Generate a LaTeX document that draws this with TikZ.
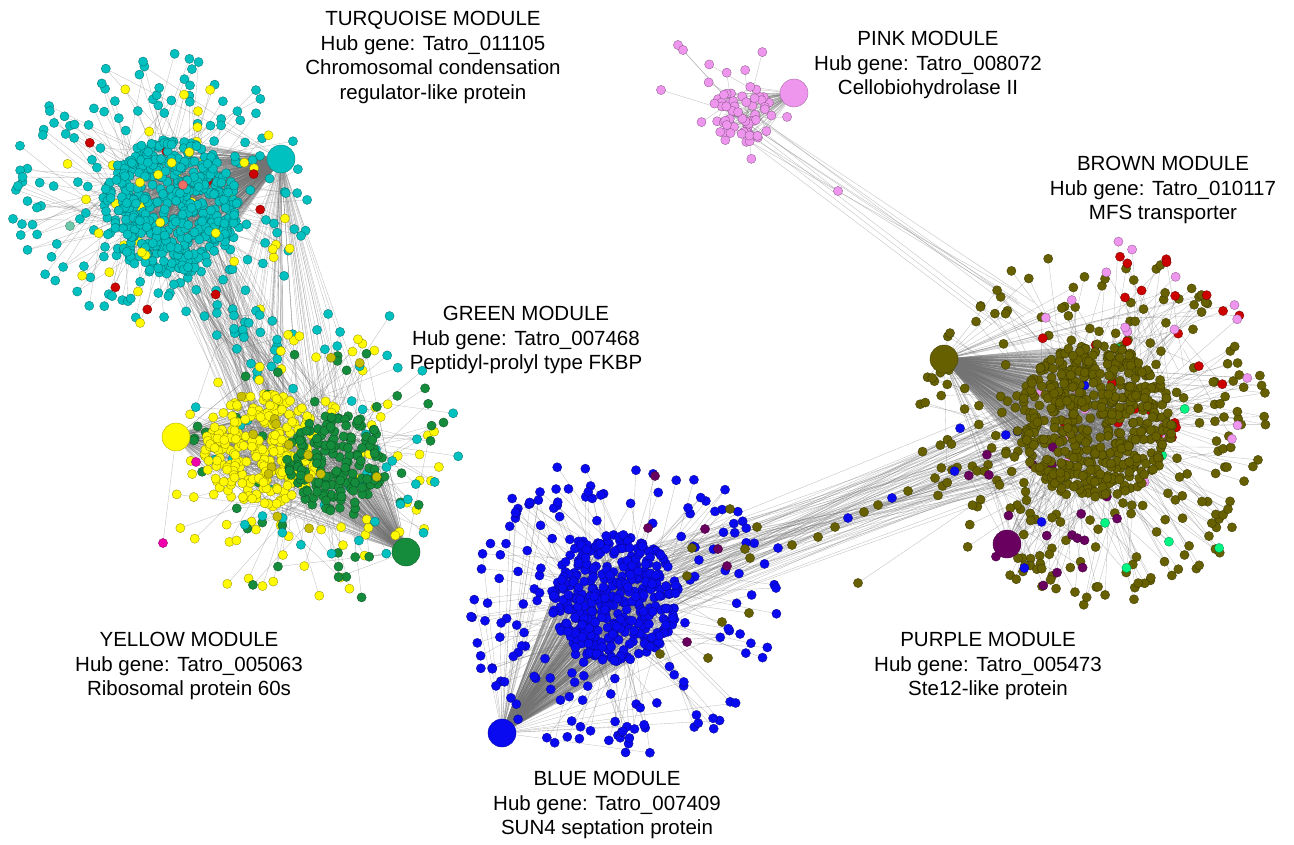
\documentclass[tikz,border=0pt]{standalone}
\usepackage{fontspec}
\newfontfamily\labelfont{Liberation Sans}

% module colours
\definecolor{turq}{RGB}{0,192,192}
\definecolor{yel}{RGB}{255,250,0}
\definecolor{dyel}{RGB}{200,190,0}
\definecolor{grn}{RGB}{20,140,60}
\definecolor{blu}{RGB}{10,10,240}
\definecolor{olv}{RGB}{102,96,0}
\definecolor{pnk}{RGB}{238,150,238}
\definecolor{prp}{RGB}{105,0,95}
\definecolor{rd}{RGB}{205,0,0}
\definecolor{slm}{RGB}{240,110,100}
\definecolor{spg}{RGB}{0,245,130}
\definecolor{mag}{RGB}{240,0,170}
\definecolor{pal}{RGB}{110,200,170}

\tikzset{
  link/.style={draw=black!55, line width=0.35pt, opacity=0.45},
  dot/.style={fill=#1, draw=#1!55!black, line width=0.3pt},
  hubdot/.style={circle, fill=#1, draw=#1!70!black, line width=0.4pt,
                 minimum size=28pt, inner sep=0pt},
  modtext/.style={font=\labelfont\fontsize{20.5}{24.5}\selectfont,
                  align=center, anchor=north, inner sep=0pt},
}

% the network is drawn twice with the same seed: links first, then genes
\newif\iflinkpass

% a cloud of genes: #1,#2 centre; #3 inner and #4 outer radius; #5 number of genes;
% #6 colour; #7 hub; #8 share of genes tied to the hub; #9 radius of the core they tie into
\newcommand\netblob[9]{%
  \foreach \k in {1,...,#5}{%
    \pgfmathsetmacro\ang{360*rnd}%
    \pgfmathsetmacro\rq{#3/#4}%
    \pgfmathsetmacro\rad{#4*sqrt(\rq*\rq+(1-\rq*\rq)*rnd)}%
    \pgfmathsetmacro\px{#1+\rad*cos(\ang)}%
    \pgfmathsetmacro\py{#2+\rad*sin(\ang)}%
    \pgfmathsetmacro\tang{360*rnd}%
    \pgfmathsetmacro\trad{#9*sqrt(rnd)}%
    \pgfmathsetmacro\tx{#1+\trad*cos(\tang)}%
    \pgfmathsetmacro\ty{#2+\trad*sin(\tang)}%
    \pgfmathtruncatemacro\hl{(rnd<#8)}%
    \iflinkpass
      \draw[link] (\px,\py) -- (\tx,\ty);
      \ifnum\hl=1 \draw[link] (\px,\py) -- (#7);\fi
    \else
      \path[dot=#6] (\px,\py) circle[radius=4.6pt];
    \fi
  }%
}

% bundle of co-expression links between two discs
\newcommand\bandlinks[7]{%
  \foreach \k in {1,...,#1}{%
    \pgfmathsetmacro\aa{360*rnd}\pgfmathsetmacro\ra{#4*sqrt(rnd)}%
    \pgfmathsetmacro\ab{360*rnd}\pgfmathsetmacro\rb{#7*sqrt(rnd)}%
    \pgfmathsetmacro\xa{#2+\ra*cos(\aa)}\pgfmathsetmacro\ya{#3+\ra*sin(\aa)}%
    \pgfmathsetmacro\xb{#5+\rb*cos(\ab)}\pgfmathsetmacro\yb{#6+\rb*sin(\ab)}%
    \iflinkpass \draw[link] (\xa,\ya) -- (\xb,\yb);\fi
  }%
}

% a single gene with one link
\newcommand\spot[4]{%
  \iflinkpass \draw[link] (#1,#2) -- (#4);%
  \else \path[dot=#3] (#1,#2) circle[radius=4.6pt];\fi
}

\newcommand\network{%
  % links between modules
  \bandlinks{110}{195}{250}{40}{290}{440}{55}
  \bandlinks{25}{281}{159}{0}{300}{450}{60}
  \bandlinks{80}{406}{552}{0}{290}{455}{60}
  \bandlinks{80}{650}{585}{40}{1010}{450}{45}
  \bandlinks{10}{742}{118}{22}{1010}{320}{30}
  \bandlinks{15}{1007}{544}{0}{1095}{422}{60}
  \bandlinks{50}{502}{733}{0}{610}{600}{60}
  % turquoise module
  \netblob{160}{195}{68}{150}{150}{turq}{hT}{0.15}{55}
  \netblob{168}{205}{20}{140}{38}{yel}{hT}{0.2}{50}
  \netblob{168}{205}{20}{110}{9}{rd}{hT}{0.2}{50}
  \netblob{250}{335}{0}{45}{25}{turq}{hT}{0.5}{40}
  \netblob{170}{207}{0}{68}{450}{turq}{hT}{0.9}{40}
  \netblob{168}{205}{10}{60}{8}{yel}{hT}{0.5}{40}
  \spot{183}{185}{slm}{cT}
  \spot{70}{226}{pal}{cT}
  % yellow and green modules
  \netblob{300}{465}{58}{140}{75}{yel}{hY}{0.1}{60}
  \netblob{320}{470}{52}{135}{45}{grn}{hG}{0.2}{50}
  \netblob{330}{430}{30}{140}{50}{turq}{hT}{0.15}{40}
  \netblob{262}{450}{0}{58}{250}{yel}{hY}{0.55}{40}
  \netblob{337}{462}{0}{50}{165}{grn}{hG}{0.8}{35}
  \netblob{320}{440}{10}{90}{15}{dyel}{hY}{0.2}{40}
  \spot{196}{462}{mag}{hY}
  \spot{163}{543}{mag}{hY}
  % blue module
  \netblob{622}{605}{62}{155}{170}{blu}{hB}{0.25}{50}
  \netblob{615}{598}{0}{64}{390}{blu}{hB}{0.8}{40}
  \foreach \x/\y in {730/509,757/527,745/549,750/558,692/548,687/576,749/613,
                     722/622,708/658,660/654}{\spot{\x}{\y}{olv}{cB}}
  \foreach \x/\y in {655/476,705/529,718/549,727/566,648/528,687/642}{\spot{\x}{\y}{prp}{cB}}
  \foreach \x/\y in {778/548,776/588}{\spot{\x}{\y}{blu}{cB}}
  % genes bridging the blue and brown modules
  \foreach \x/\y in {792/545,818/537,835/527,864/512,878/505,908/491,935/478,
                     952/470,858/583}{\spot{\x}{\y}{olv}{cBr}}
  \foreach \x/\y in {848/518,892/498}{\spot{\x}{\y}{blu}{cBr}}
  % brown module
  \netblob{1095}{428}{78}{178}{230}{olv}{hBr}{0.2}{55}
  \netblob{1140}{350}{10}{110}{25}{rd}{hBr}{0.15}{50}
  \netblob{1150}{360}{30}{130}{25}{pnk}{hBr}{0.15}{50}
  \netblob{1040}{510}{0}{80}{18}{prp}{hPu}{0.4}{40}
  \netblob{1040}{470}{20}{100}{7}{blu}{hBr}{0.3}{40}
  \netblob{1100}{470}{40}{150}{7}{spg}{hBr}{0.3}{40}
  \netblob{1095}{422}{0}{78}{500}{olv}{hBr}{0.8}{45}
  % pink module
  \netblob{742}{108}{30}{62}{10}{pnk}{hP}{0.5}{25}
  \netblob{742}{115}{0}{30}{55}{pnk}{hP}{0.95}{22}
  \foreach \x/\y in {678/45,683/50,661/90}{\spot{\x}{\y}{pnk}{cP}}
  \spot{838}{191}{pnk}{cP}
}

\begin{document}
\begin{tikzpicture}[x=1pt,y=-1pt]
\fill[white] (0,0) rectangle (1294,845);
\useasboundingbox (0,0) rectangle (1294,845);

% hub positions and module cores
\coordinate (hT)  at (281,159);
\coordinate (hP)  at (794,93);
\coordinate (hBr) at (944,359);
\coordinate (hY)  at (176,437);
\coordinate (hG)  at (406,552);
\coordinate (hB)  at (502,733);
\coordinate (hPu) at (1007,544);
\coordinate (cT)  at (170,210);
\coordinate (cYG) at (290,450);
\coordinate (cB)  at (620,595);
\coordinate (cBr) at (1095,422);
\coordinate (cP)  at (742,115);

% links, then genes, from the same random layout
\linkpasstrue
\pgfmathsetseed{20230}
\network
\linkpassfalse
\pgfmathsetseed{20230}
\network

% hub genes
\node[hubdot=turq] (hubT)  at (hT)  {};
\node[hubdot=pnk]  (hubP)  at (hP)  {};
\node[hubdot=olv]  (hubBr) at (hBr) {};
\node[hubdot=yel]  (hubY)  at (hY)  {};
\node[hubdot=grn]  (hubG)  at (hG)  {};
\node[hubdot=blu]  (hubB)  at (hB)  {};
\node[hubdot=prp]  (hubPu) at (hPu) {};

% module captions
\node[modtext] (tT) at (433,11) {TURQUOISE MODULE\\Hub gene: Tatro\_011105\\Chromosomal condensation\\regulator-like protein};
\node[modtext] (tP) at (928,31) {PINK MODULE\\Hub gene: Tatro\_008072\\Cellobiohydrolase II};
\node[modtext] (tBr) at (1163,156) {BROWN MODULE\\Hub gene: Tatro\_010117\\MFS transporter};
\node[modtext] (tG) at (526,306) {GREEN MODULE\\Hub gene: Tatro\_007468\\Peptidyl-prolyl type FKBP};
\node[modtext] (tY) at (189,632) {YELLOW MODULE\\Hub gene: Tatro\_005063\\Ribosomal protein 60s};
\node[modtext] (tPu) at (988,632) {PURPLE MODULE\\Hub gene: Tatro\_005473\\Ste12-like protein};
\node[modtext] (tB) at (607,771) {BLUE MODULE\\Hub gene: Tatro\_007409\\SUN4 septation protein};
\end{tikzpicture}
\end{document}
